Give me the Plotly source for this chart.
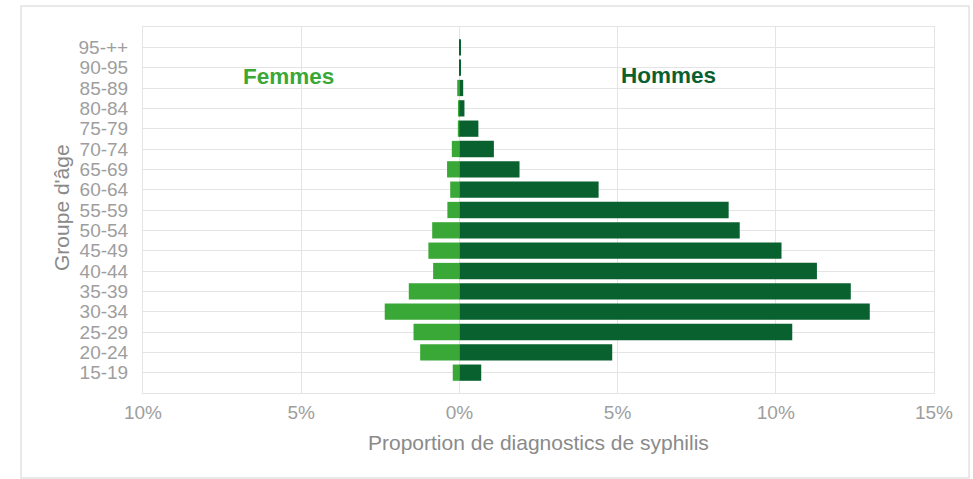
import plotly.graph_objects as go

age_groups = ["15-19", "20-24", "25-29", "30-34", "35-39", "40-44", "45-49", "50-54",
              "55-59", "60-64", "65-69", "70-74", "75-79", "80-84", "85-89", "90-95", "95-++"]
femmes = [0.21, 1.24, 1.45, 2.36, 1.60, 0.83, 0.98, 0.86,
          0.38, 0.29, 0.39, 0.24, 0.05, 0.02, 0.07, 0.01, 0.0]
hommes = [0.69, 4.83, 10.52, 12.97, 12.37, 11.30, 10.18, 8.86,
          8.51, 4.40, 1.90, 1.09, 0.60, 0.16, 0.12, 0.05, 0.03]
x_ticks = [-10, -5, 0, 5, 10, 15]
x_tick_text = ["10%", "5%", "0%", "5%", "10%", "15%"]

col_f = "#3aa836"
col_h = "#0a6130"
grid = "#e4e4e4"
font = "Liberation Sans, Arial, sans-serif"

pos = list(range(len(age_groups)))

fig = go.Figure()
fig.add_trace(go.Bar(y=pos, x=[-v for v in femmes], orientation="h",
                     marker=dict(color=col_f, line=dict(width=0)), name="Femmes"))
fig.add_trace(go.Bar(y=pos, x=hommes, orientation="h",
                     marker=dict(color=col_h, line=dict(width=0)), name="Hommes"))

fig.update_layout(
    width=973, height=479,
    margin=dict(l=143, r=39, t=27, b=86),
    paper_bgcolor="white", plot_bgcolor="white",
    barmode="relative", bargap=0.2,
    showlegend=False,
    font=dict(family=font, color="#999999"),
    xaxis=dict(range=[-10, 15], tickvals=x_ticks, ticktext=x_tick_text,
               showgrid=True, gridcolor=grid, gridwidth=1, zeroline=False,
               showline=True, linecolor=grid, mirror=True,
               ticks="", ticklabelstandoff=2,
               tickfont=dict(size=19, color="#9e9e9e", family=font)),
    yaxis=dict(range=[-1, 17], tickvals=pos, ticktext=age_groups,
               showgrid=True, gridcolor=grid, gridwidth=1, zeroline=False,
               showline=True, linecolor=grid, mirror=True,
               ticks="", ticklabelstandoff=10,
               tickfont=dict(size=19, color="#9e9e9e", family=font)),
    shapes=[dict(type="rect", xref="paper", yref="paper",
                 x0=-0.1542, x1=1.0443, y0=-0.2322, y1=1.0574,
                 line=dict(color="#e2e2e2", width=1.5), fillcolor="rgba(0,0,0,0)",
                 layer="below")],
    annotations=[
        dict(text="Femmes", x=-5.4, y=14.55, xref="x", yref="y", showarrow=False,
             xanchor="center", yanchor="middle",
             font=dict(size=22.5, color=col_f, family=font, weight="bold")),
        dict(text="Hommes", x=6.6, y=14.6, xref="x", yref="y", showarrow=False,
             xanchor="center", yanchor="middle",
             font=dict(size=22.5, color=col_h, family=font, weight="bold")),
        dict(text="Proportion de diagnostics de syphilis", x=0.5, y=-0.1366,
             xref="paper", yref="paper", showarrow=False,
             xanchor="center", yanchor="middle",
             font=dict(size=21, color="#8a8a8a", family=font)),
        dict(text="Groupe d'âge", x=-0.1024, y=0.5055, xref="paper", yref="paper",
             showarrow=False, textangle=-90, xanchor="center", yanchor="middle",
             font=dict(size=21, color="#8a8a8a", family=font)),
    ],
)

fig.write_html("out.html", config={"displayModeBar": False},
               post_script="document.body.style.margin='0';")
